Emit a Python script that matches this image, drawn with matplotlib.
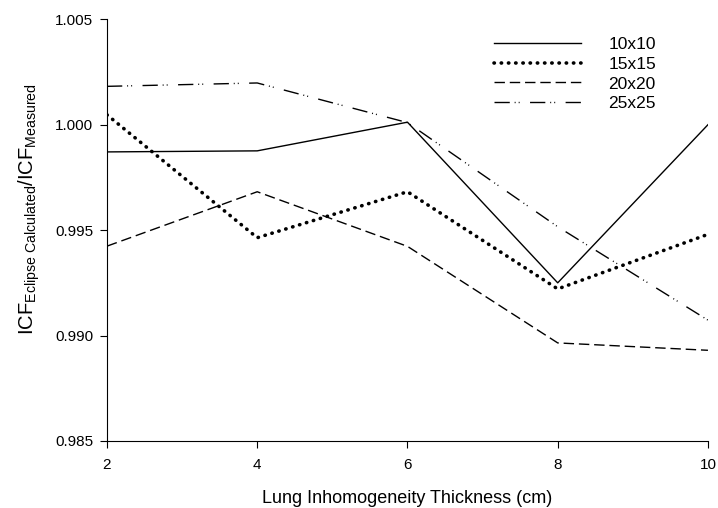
import matplotlib
matplotlib.use("Agg")
import matplotlib.pyplot as plt

plt.rcParams['font.family'] = ['Liberation Sans', 'DejaVu Sans']
plt.rcParams['mathtext.fontset'] = 'custom'
plt.rcParams['mathtext.rm'] = 'Liberation Sans'

thickness = [2, 4, 6, 8, 10]
icf_10 = [0.99871, 0.99876, 1.00012, 0.99250, 1.00000]
icf_15 = [1.00047, 0.99464, 0.99682, 0.99221, 0.99480]
icf_20 = [0.99424, 0.99682, 0.99423, 0.98965, 0.98930]
icf_25 = [1.00182, 1.00198, 1.00010, 0.99516, 0.99073]

fig = plt.figure(figsize=(7.18, 5.08), dpi=100)
ax = fig.add_axes([0.149, 0.132, 0.837, 0.83])

ax.plot(thickness, icf_10, color='black', lw=1.0, label='10x10')
ax.plot(thickness, icf_15, color='black', lw=2.6, linestyle=(0, (0.1, 1.9)),
        dash_capstyle='round', label='15x15')
ax.plot(thickness, icf_20, color='black', lw=1.0, linestyle=(0, (7.5, 3.5)), label='20x20')
ax.plot(thickness, icf_25, color='black', lw=1.0,
        linestyle=(0, (11, 3.5, 0.7, 2.2, 0.7, 7.5)), label='25x25')

ax.set_xlim(2, 10)
ax.set_ylim(0.985, 1.005)
ax.set_xticks([2, 4, 6, 8, 10])
ax.set_yticks([0.985, 0.990, 0.995, 1.000, 1.005])
ax.set_yticklabels(['0.985', '0.990', '0.995', '1.000', '1.005'])
ax.spines['top'].set_visible(False)
ax.spines['right'].set_visible(False)
ax.tick_params(direction='out', length=5, labelsize=11)
ax.tick_params(axis='x', pad=7)
ax.tick_params(axis='y', pad=5)

ax.set_xlabel('Lung Inhomogeneity Thickness (cm)', fontsize=13, labelpad=13)
ax.set_ylabel(r'ICF$_{\mathrm{Eclipse\ Calculated}}$/ICF$_{\mathrm{Measured}}$',
              fontsize=14.5)
ax.yaxis.set_label_coords(-0.108, 0.55)

ax.legend(loc='upper right', frameon=False, fontsize=12.5, handlelength=5.0,
          handletextpad=1.6, labelspacing=0.26, bbox_to_anchor=(0.94, 0.995))

fig.savefig('out.png', dpi=100)
